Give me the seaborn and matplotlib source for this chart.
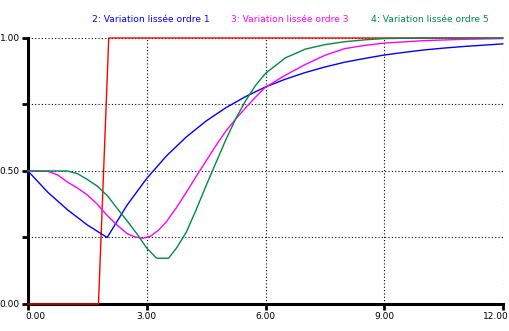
import matplotlib
matplotlib.use("Agg")
import matplotlib.pyplot as plt
import matplotlib.transforms as mtransforms
import seaborn as sns
import pandas as pd
from matplotlib.ticker import FixedLocator, FixedFormatter

# Step input (series 1)
t_step = [0.0, 1.78, 2.04, 12.0]
v_step = [0.0, 0.0, 1.0, 1.0]

# Smoothed variation, order 1
t_o1 = [0.0, 0.5, 1.0, 1.5, 2.0, 2.5, 3.0, 3.5, 4.0, 4.5, 5.0, 5.5, 6.0, 6.5,
        7.0, 7.5, 8.0, 8.5, 9.0, 9.5, 10.0, 10.5, 11.0, 11.5, 12.0]
v_o1 = [0.500, 0.420, 0.354, 0.297, 0.250, 0.371, 0.472, 0.557, 0.628, 0.688,
        0.738, 0.780, 0.816, 0.845, 0.870, 0.891, 0.909, 0.923, 0.936, 0.946,
        0.955, 0.962, 0.968, 0.973, 0.978]

# Smoothed variation, order 3
t_o3 = [0.0, 0.5, 0.75, 1.0, 1.25, 1.5, 1.75, 2.0, 2.25, 2.5, 2.7, 2.9, 3.1,
        3.3, 3.5, 3.75, 4.0, 4.25, 4.5, 4.75, 5.0, 5.25, 5.5, 5.75, 6.0, 6.5,
        7.0, 7.5, 8.0, 8.5, 9.0, 10.0, 11.0, 12.0]
v_o3 = [0.500, 0.499, 0.485, 0.458, 0.436, 0.410, 0.375, 0.333, 0.297, 0.265,
        0.252, 0.247, 0.255, 0.278, 0.310, 0.362, 0.420, 0.480, 0.538, 0.596,
        0.650, 0.696, 0.738, 0.778, 0.815, 0.860, 0.900, 0.935, 0.960, 0.972,
        0.981, 0.990, 0.995, 0.998]

# Smoothed variation, order 5
t_o5 = [0.0, 0.5, 1.0, 1.25, 1.5, 1.75, 2.0, 2.25, 2.5, 2.75, 3.0, 3.25, 3.55,
        3.75, 4.0, 4.25, 4.5, 4.75, 5.0, 5.25, 5.5, 5.75, 6.0, 6.5, 7.0, 7.5,
        8.0, 8.5, 9.0, 10.0, 12.0]
v_o5 = [0.500, 0.500, 0.500, 0.490, 0.468, 0.443, 0.408, 0.360, 0.313, 0.264,
        0.210, 0.172, 0.172, 0.210, 0.270, 0.355, 0.445, 0.532, 0.618, 0.697,
        0.765, 0.822, 0.867, 0.925, 0.958, 0.975, 0.986, 0.993, 0.998, 1.000,
        1.000]

series_names = ["1", "2: Variation lissée ordre 1", "3: Variation lissée ordre 3",
                "4: Variation lissée ordre 5"]
colors = ["#ff0000", "#0000ff", "#ff00ff", "#008a45"]
x_ticks = [0, 3, 6, 9, 12]
x_labels = ["0.00", "3.00", "6.00", "9.00", "12.00"]
y_ticks = [0.0, 0.25, 0.5, 0.75, 1.0]
y_labels = ["0.00", "", "0.50", "", "1.00"]

frames = []
for name, t, v in zip(series_names, [t_step, t_o1, t_o3, t_o5], [v_step, v_o1, v_o3, v_o5]):
    frames.append(pd.DataFrame({"t": t, "v": v, "serie": name}))
df = pd.concat(frames, ignore_index=True)

sns.set_style("white")
plt.rcParams["font.family"] = ["DejaVu Sans"]

fig = plt.figure(figsize=(5.10, 3.31), dpi=100)
ax = fig.add_axes([0.0549, 0.0816, 0.9314, 0.8036])

sns.lineplot(data=df, x="t", y="v", hue="serie", palette=dict(zip(series_names, colors)),
             hue_order=series_names, estimator=None, sort=False, linewidth=1.0,
             legend=False, ax=ax)
for ln in ax.lines:
    ln.set_clip_on(False)
    ln.set_zorder(3)

ax.set_xlim(0, 12)
ax.set_ylim(0, 1)
ax.set_xlabel("")
ax.set_ylabel("")
ax.xaxis.set_major_locator(FixedLocator(x_ticks))
ax.xaxis.set_major_formatter(FixedFormatter(x_labels))
ax.yaxis.set_major_locator(FixedLocator(y_ticks))
ax.yaxis.set_major_formatter(FixedFormatter(y_labels))

ax.grid(True, color="black", linestyle=(0, (1, 2)), linewidth=0.8)
ax.set_axisbelow(True)

for side in ["top", "right"]:
    ax.spines[side].set_visible(False)
for side in ["left", "bottom"]:
    ax.spines[side].set_color("black")
    ax.spines[side].set_linewidth(2.2)
    ax.spines[side].set_zorder(2)

ax.tick_params(axis="both", which="major", direction="out", length=4, width=2.0,
               color="black", labelsize=6.5, labelcolor="black", pad=2,
               left=True, bottom=True)

# Keep the end labels of the time axis inside the figure
fig.canvas.draw()
xlabels = ax.get_xticklabels()
for lab, dx in [(xlabels[0], 7 / 72), (xlabels[-1], -7.5 / 72)]:
    lab.set_transform(lab.get_transform() + mtransforms.ScaledTranslation(dx * 0.72, 0, fig.dpi_scale_trans))

# Series captions above the plot
for name, col, xc in zip(series_names[1:], colors[1:], [151, 290, 430]):
    fig.text(xc / 510, 1 - 19 / 331, name, color=col, fontsize=6.6,
             ha="center", va="center")

fig.savefig("out.png", dpi=100, facecolor="white")
